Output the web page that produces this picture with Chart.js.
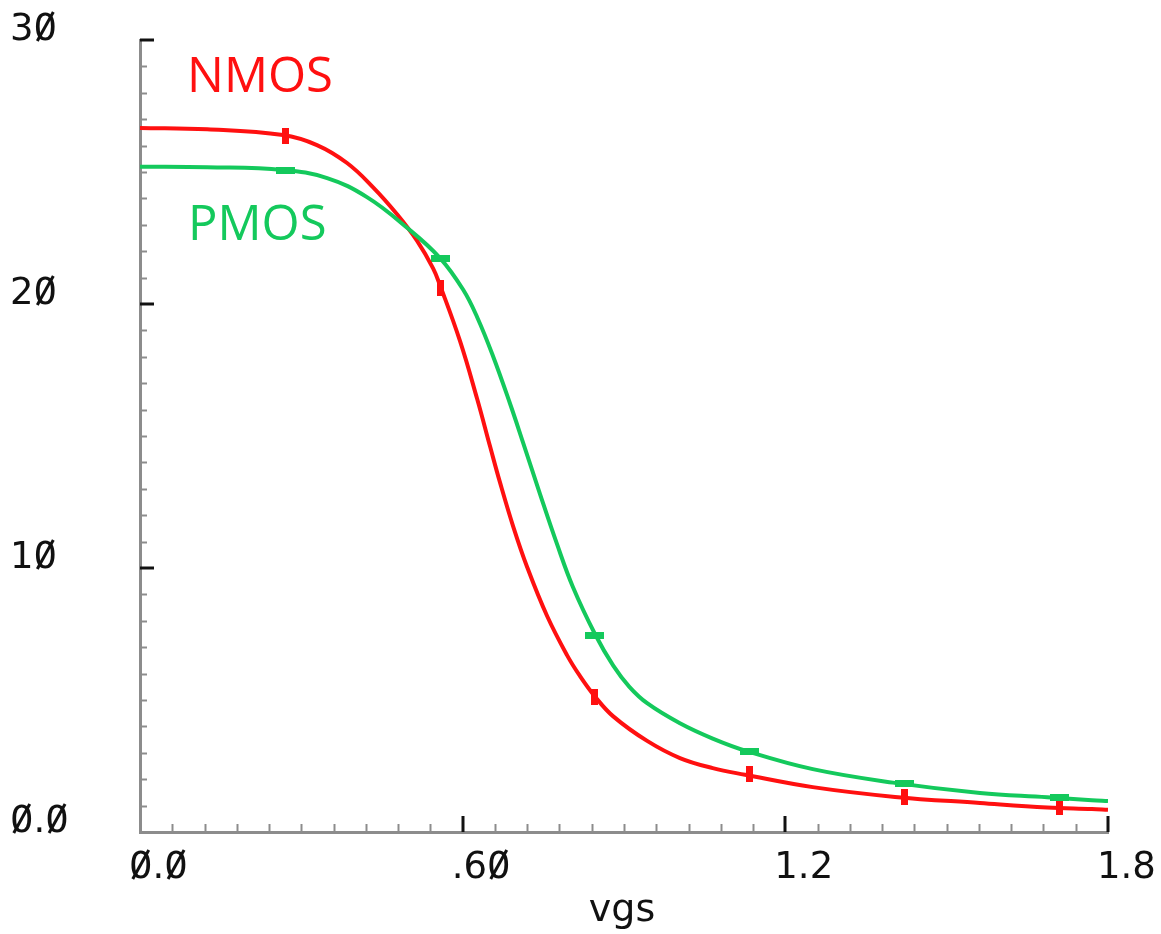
<!DOCTYPE html>
<html>
<head>
<meta charset="utf-8">
<script src="https://cdn.jsdelivr.net/npm/chart.js@4"></script>
<style>
  html, body { margin: 0; padding: 0; background: #ffffff; }
  #wrap { width: 1161px; height: 934px; position: relative; }
</style>
</head>
<body>
<div id="wrap"><canvas id="chart"></canvas></div>
<script>
// vgs sweep vs current
const nmosVgs = [0, 0.125, 0.266, 0.329, 0.385, 0.433, 0.478, 0.515, 0.545, 0.558, 0.595, 0.627, 0.651, 0.669, 0.694, 0.720, 0.757, 0.794, 0.818, 0.846, 0.880, 0.943, 1.004, 1.065, 1.125, 1.251, 1.404, 1.562, 1.687, 1.770, 1.8];
const nmosId = [26.67, 26.62, 26.4, 26.02, 25.34, 24.43, 23.4, 22.4, 21.35, 20.7, 18.6, 16.4, 14.6, 13.27, 11.57, 10.03, 8.18, 6.7, 5.91, 5.13, 4.38, 3.45, 2.8, 2.42, 2.17, 1.70, 1.33, 1.10, 0.93, 0.87, 0.84];

const pmosVgs = [0, 0.125, 0.266, 0.348, 0.422, 0.496, 0.558, 0.601, 0.627, 0.656, 0.688, 0.712, 0.744, 0.775, 0.805, 0.846, 0.880, 0.910, 0.943, 1.004, 1.065, 1.129, 1.251, 1.400, 1.562, 1.687, 1.770, 1.8];
const pmosId = [25.2, 25.18, 25.08, 24.77, 24.05, 22.9, 21.74, 20.54, 19.5, 18.05, 16.23, 14.77, 12.79, 10.93, 9.28, 7.5, 6.3, 5.5, 4.88, 4.12, 3.54, 3.06, 2.38, 1.87, 1.48, 1.32, 1.2, 1.17];

// marker positions along each curve
const markerVgs = [0.27, 0.558, 0.846, 1.134, 1.422, 1.71];
const nmosMarkerId = [26.35, 20.6, 5.1, 2.2, 1.33, 0.95];
const pmosMarkerId = [25.05, 21.74, 7.46, 3.05, 1.85, 1.3];

// axis ticks and labels
const yTickValues = [0, 10, 20, 30];
const yTickLabels = ['0.0', '10', '20', '30'];
const xTickValues = [0, 0.6, 1.2, 1.8];
const xTickLabels = ['0.0', '.60', '1.2', '1.8'];
const xAxisTitle = 'vgs';
const seriesNames = ['NMOS', 'PMOS'];

const RED = '#ff1010';
const GREEN = '#14c95c';

function makeMarker(w, h, color) {
    const c = document.createElement('canvas');
    c.width = w;
    c.height = h;
    const g = c.getContext('2d');
    g.fillStyle = color;
    g.fillRect(0, 0, w, h);
    return c;
}

function toPoints(xs, ys) {
    return xs.map((x, i) => ({ x: x, y: ys[i] }));
}

// draws text, then puts a slash through every zero like the plot tool does
function slashedText(ctx, text, x, y, capH) {
    ctx.fillText(text, x, y);
    const zw = ctx.measureText('0').width;
    for (let i = 0; i < text.length; i++) {
        if (text[i] !== '0') continue;
        const x0 = x + ctx.measureText(text.slice(0, i)).width;
        ctx.beginPath();
        ctx.moveTo(x0 + zw * 0.16, y + 1);
        ctx.lineTo(x0 + zw * 0.84, y - capH - 1);
        ctx.stroke();
    }
}

const axisDecor = {
    id: 'axisDecor',
    afterDraw(chart) {
        const { ctx, chartArea, scales } = chart;
        const xs = scales.x, ys = scales.y;
        ctx.save();

        // minor ticks (inward)
        ctx.strokeStyle = '#8c8c8c';
        ctx.lineWidth = 2;
        for (let v = 1; v < 30; v++) {
            if (v % 10 === 0) continue;
            const py = Math.round(ys.getPixelForValue(v)) + 0.5;
            ctx.beginPath();
            ctx.moveTo(chartArea.left, py);
            ctx.lineTo(chartArea.left + 7, py);
            ctx.stroke();
        }
        for (let k = 1; k < 30; k++) {
            if (k % 10 === 0) continue;
            const px = Math.round(xs.getPixelForValue(k * 0.06)) + 0.5;
            ctx.beginPath();
            ctx.moveTo(px, chartArea.bottom);
            ctx.lineTo(px, chartArea.bottom - 8);
            ctx.stroke();
        }

        // major ticks
        ctx.strokeStyle = '#111111';
        ctx.lineWidth = 3;
        yTickValues.forEach(v => {
            if (v === 0) return;
            const py = Math.round(ys.getPixelForValue(v));
            ctx.beginPath();
            ctx.moveTo(chartArea.left, py);
            ctx.lineTo(chartArea.left + 14, py);
            ctx.stroke();
        });
        xTickValues.forEach(v => {
            if (v === 0) return;
            const px = Math.round(xs.getPixelForValue(v));
            ctx.beginPath();
            ctx.moveTo(px, chartArea.bottom);
            ctx.lineTo(px, chartArea.bottom - 16);
            ctx.stroke();
        });

        // tick labels
        ctx.fillStyle = '#111111';
        ctx.strokeStyle = '#111111';
        ctx.lineWidth = 3;
        ctx.font = '37px "DejaVu Sans"';
        ctx.textAlign = 'left';
        ctx.textBaseline = 'alphabetic';
        yTickValues.forEach((v, i) => {
            const py = ys.getPixelForValue(v);
            slashedText(ctx, yTickLabels[i], 10, py, 27);
        });
        xTickValues.forEach((v, i) => {
            const px = xs.getPixelForValue(v);
            slashedText(ctx, xTickLabels[i], px - 11, chartArea.bottom + 46, 27);
        });

        // axis title
        ctx.font = '38px "DejaVu Sans"';
        ctx.textAlign = 'center';
        ctx.fillText(xAxisTitle, 622, 921);

        // series labels
        ctx.font = '49px "Open Sans"';
        ctx.textAlign = 'left';
        ctx.fillStyle = RED;
        ctx.fillText(seriesNames[0], 187, 92);
        ctx.fillStyle = GREEN;
        ctx.fillText(seriesNames[1], 188, 240);

        ctx.restore();
    }
};

const lineStyle = {
    showLine: true,
    pointRadius: 0,
    borderWidth: 4,
    tension: 0.4,
    fill: false
};

new Chart(document.getElementById('chart'), {
    type: 'scatter',
    data: {
        datasets: [
            { ...lineStyle, label: seriesNames[1], data: toPoints(pmosVgs, pmosId), borderColor: GREEN },
            { ...lineStyle, label: seriesNames[0], data: toPoints(nmosVgs, nmosId), borderColor: RED },
            {
                label: 'pmos marks',
                data: toPoints(markerVgs, pmosMarkerId),
                showLine: false,
                pointStyle: makeMarker(19, 7, GREEN),
                pointRadius: 8
            },
            {
                label: 'nmos marks',
                data: toPoints(markerVgs, nmosMarkerId),
                showLine: false,
                pointStyle: makeMarker(7, 16, RED),
                pointRadius: 8
            }
        ]
    },
    options: {
        responsive: true,
        maintainAspectRatio: false,
        animation: false,
        layout: { padding: { left: 140, top: 40, right: 53, bottom: 102 } },
        plugins: {
            legend: { display: false },
            tooltip: { enabled: false }
        },
        scales: {
            x: {
                type: 'linear',
                min: 0,
                max: 1.8,
                grid: { display: false, drawTicks: false },
                border: { display: true, color: '#8c8c8c', width: 3 },
                ticks: { display: false },
                afterFit: (scale) => { scale.height = 0; }
            },
            y: {
                type: 'linear',
                min: 0,
                max: 30,
                grid: { display: false, drawTicks: false },
                border: { display: true, color: '#8c8c8c', width: 3 },
                ticks: { display: false },
                afterFit: (scale) => { scale.width = 0; }
            }
        }
    },
    plugins: [axisDecor]
});
</script>
</body>
</html>
